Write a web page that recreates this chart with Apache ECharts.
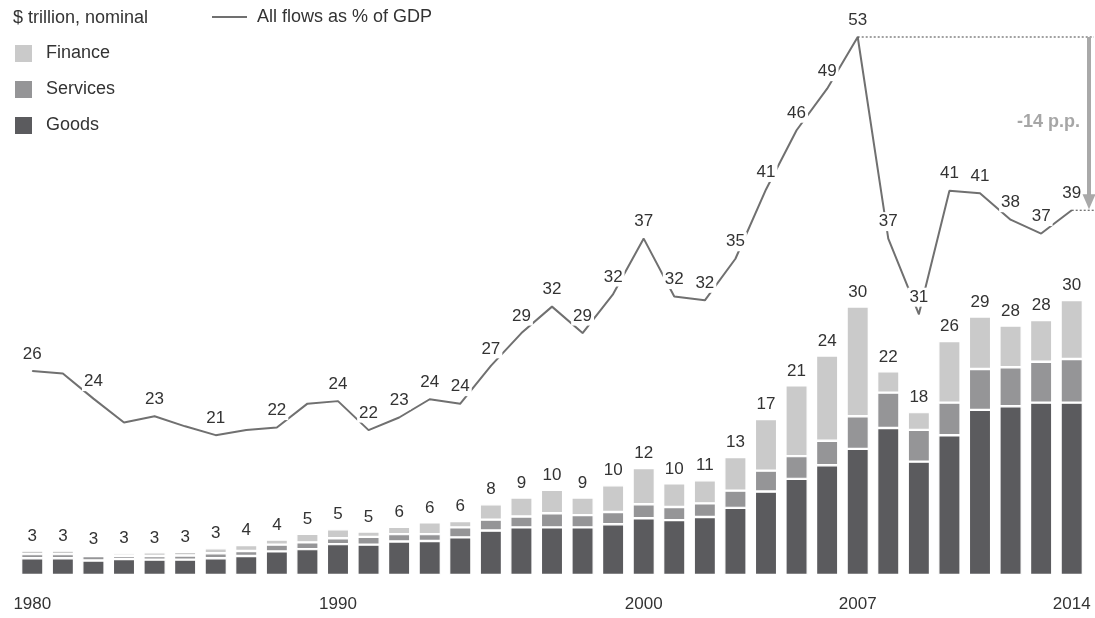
<!DOCTYPE html>
<html><head><meta charset="utf-8">
<script src="https://cdn.jsdelivr.net/npm/echarts@6/dist/echarts.min.js"></script>
<style>html,body{margin:0;padding:0;background:#fff}#c{width:1095px;height:618px}</style>
</head><body><div id="c"></div>
<script>
const years = ['1980','1981','1982','1983','1984','1985','1986','1987','1988','1989',
  '1990','1991','1992','1993','1994','1995','1996','1997','1998','1999',
  '2000','2001','2002','2003','2004','2005','2006','2007','2008','2009',
  '2010','2011','2012','2013','2014'];
const tickYears = ['1980','1990','2000','2007','2014'];
// $ trillion
const goods = [1.85,1.85,1.6,1.75,1.7,1.7,1.85,2.1,2.6,2.85,
  3.4,3.35,3.7,3.75,4.15,4.9,5.25,5.25,5.25,5.6,
  6.25,6.05,6.4,7.4,9.2,10.6,12.1,13.9,16.2,12.5,
  15.4,18.2,18.6,19.0,19.0];
const services = [0.45,0.45,0.5,0.35,0.4,0.45,0.55,0.55,0.75,0.75,
  0.65,0.85,0.8,0.75,1.1,1.2,1.2,1.55,1.35,1.35,
  1.55,1.45,1.5,1.9,2.3,2.5,2.7,3.6,3.9,3.5,
  3.6,4.5,4.3,4.5,4.8];
const finance = [0.4,0.4,0.25,0.3,0.4,0.4,0.55,0.65,0.55,0.95,
  1.0,0.6,0.8,1.3,0.7,1.7,2.1,2.6,1.95,2.95,
  4.0,2.6,2.55,3.7,5.7,7.8,9.4,12.1,2.35,1.95,
  6.8,5.8,4.6,4.6,6.5];
const totalLabels = ['3','3','3','3','3','3','3','4','4','5',
  '5','5','6','6','6','8','9','10','9','10',
  '12','10','11','13','17','21','24','30','22','18',
  '26','29','28','28','30'];
// All flows as % of GDP
const gdpShare = [26.5,26.3,24.3,22.4,22.9,22.1,21.4,21.8,22.0,23.9,
  24.1,21.8,22.8,24.25,23.9,26.9,29.5,31.6,29.5,32.6,
  37.0,32.4,32.1,35.4,40.9,45.6,48.9,53.0,37.0,31.0,
  40.8,40.6,38.5,37.4,39.25];
const gdpLabels = ['26','','24','','23','','21','','22','',
  '24','22','23','24','24','27','29','32','29','32',
  '37','32','32','35','41','46','49','53','37','31',
  '41','41','38','37','39'];
const changeText = '-14 p.p.';

const FONT = '"Liberation Sans", Arial, Helvetica, sans-serif';
const TXT = '#333333';
const chart = echarts.init(document.getElementById('c'), null, {renderer: 'canvas'});

const barCommon = {
  type: 'bar', stack: 'flows', barWidth: '73%',
  itemStyle: {borderColor: '#ffffff', borderWidth: 1.2},
  emphasis: {disabled: true}
};

chart.setOption({
  animation: false,
  backgroundColor: '#ffffff',
  textStyle: {fontFamily: FONT},
  title: {
    text: '$ trillion, nominal', left: 13, top: 9, padding: 0,
    textStyle: {fontSize: 18, fontWeight: 'normal', color: TXT, fontFamily: FONT}
  },
  legend: [
    {
      data: [{name: 'All flows as % of GDP', icon: 'rect'}],
      left: 212, top: 8, padding: 0, itemWidth: 35, itemHeight: 2,
      textStyle: {fontSize: 18, color: TXT, fontFamily: FONT, padding: [0, 0, 0, 5]},
      selectedMode: false
    },
    {
      data: [{name: 'Finance', icon: 'rect'}, {name: 'Services', icon: 'rect'}, {name: 'Goods', icon: 'rect'}],
      orient: 'vertical', left: 13, top: 43, padding: 0, itemWidth: 19, itemHeight: 19, itemGap: 15,
      textStyle: {fontSize: 18, color: TXT, fontFamily: FONT, padding: [0, 0, 0, 8]},
      selectedMode: false
    }
  ],
  grid: {left: 17, right: 8, top: 37, bottom: 43, containLabel: false, outerBoundsMode: 'none'},
  xAxis: {
    type: 'category', data: years,
    axisLine: {show: false}, axisTick: {show: false},
    axisLabel: {
      interval: (i, v) => tickYears.includes(v),
      margin: 21, fontSize: 17, color: TXT, fontFamily: FONT
    }
  },
  yAxis: [
    {type: 'value', min: 0, max: 59.3, show: false, splitLine: {show: false}},
    {type: 'value', min: 10.3, max: 53, show: false, splitLine: {show: false}}
  ],
  series: [
    Object.assign({}, barCommon, {name: 'Goods', data: goods, itemStyle: Object.assign({}, barCommon.itemStyle, {color: '#5b5b5e'})}),
    Object.assign({}, barCommon, {name: 'Services', data: services, itemStyle: Object.assign({}, barCommon.itemStyle, {color: '#959597'})}),
    Object.assign({}, barCommon, {
      name: 'Finance', data: finance,
      itemStyle: Object.assign({}, barCommon.itemStyle, {color: '#cacaca'}),
      label: {
        show: true, position: 'top', distance: 6,
        formatter: p => totalLabels[p.dataIndex],
        fontSize: 17, color: TXT, fontFamily: FONT
      }
    }),
    {
      name: 'All flows as % of GDP', type: 'line', yAxisIndex: 1, z: 5,
      data: gdpShare,
      symbol: 'circle', symbolSize: 1, showSymbol: true,
      color: '#707070',
      itemStyle: {color: '#707070'},
      lineStyle: {width: 2, color: '#707070'},
      emphasis: {disabled: true},
      labelLayout: {hideOverlap: false},
      label: {
        show: true, position: 'top', distance: 7,
        formatter: p => gdpLabels[p.dataIndex],
        fontSize: 17, color: TXT, fontFamily: FONT,
        backgroundColor: '#ffffff', padding: [1, 2]
      }
    }
  ]
});

// Annotation: drop from 2007 peak to 2014
const iPeak = years.indexOf('2007'), iLast = years.indexOf('2014');
const pPeak = chart.convertToPixel({seriesIndex: 3}, [iPeak, gdpShare[iPeak]]);
const pLast = chart.convertToPixel({seriesIndex: 3}, [iLast, gdpShare[iLast]]);
const rightX = 1094, arrowX = 1089;
chart.setOption({
  graphic: [
    {type: 'line', shape: {x1: pPeak[0], y1: pPeak[1], x2: rightX, y2: pPeak[1]},
      style: {stroke: '#444', lineWidth: 1, lineDash: [2, 2]}, z: 10},
    {type: 'line', shape: {x1: pLast[0], y1: pLast[1], x2: rightX, y2: pLast[1]},
      style: {stroke: '#444', lineWidth: 1, lineDash: [2, 2]}, z: 10},
    {type: 'line', shape: {x1: arrowX, y1: pPeak[1], x2: arrowX, y2: pLast[1] - 14},
      style: {stroke: '#a9a9a9', lineWidth: 4}, z: 11},
    {type: 'polygon', shape: {points: [[arrowX - 6.5, pLast[1] - 16], [arrowX + 6.5, pLast[1] - 16], [arrowX, pLast[1] - 1]]},
      style: {fill: '#a9a9a9'}, z: 11},
    {type: 'text', x: 1080, y: (pPeak[1] + pLast[1]) / 2 - 2,
      style: {text: changeText, fill: '#a6a6a6', font: 'bold 18px ' + FONT, align: 'right', verticalAlign: 'middle'}, z: 11}
  ]
});
</script></body></html>
